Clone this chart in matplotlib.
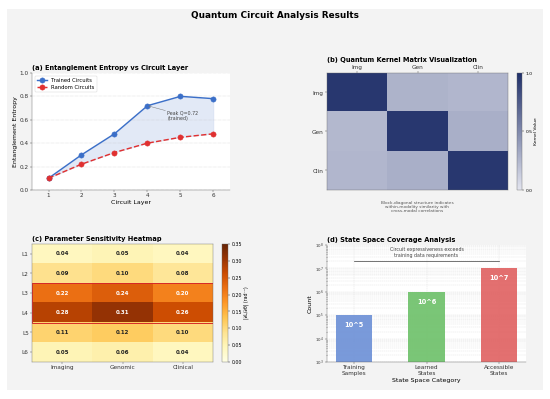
import numpy as np
import matplotlib
matplotlib.use("Agg")
import matplotlib.pyplot as plt
from matplotlib.colors import LinearSegmentedColormap
from matplotlib.patches import Rectangle

# data
layers = [1, 2, 3, 4, 5, 6]
trained = [0.10, 0.30, 0.48, 0.72, 0.80, 0.78]
random_c = [0.10, 0.22, 0.32, 0.40, 0.45, 0.48]

modalities = ["Img", "Gen", "Clin"]
kernel = np.array([[0.95, 0.27, 0.25],
                   [0.24, 0.95, 0.29],
                   [0.25, 0.29, 0.95]])

sens_rows = ["L1", "L2", "L3", "L4", "L5", "L6"]
sens_cols = ["Imaging", "Genomic", "Clinical"]
sens = np.array([[0.04, 0.05, 0.04],
                 [0.09, 0.10, 0.08],
                 [0.22, 0.24, 0.20],
                 [0.28, 0.31, 0.26],
                 [0.11, 0.12, 0.10],
                 [0.05, 0.06, 0.04]])

state_cats = ["Training\nSamples", "Learned\nStates", "Accessible\nStates"]
state_counts = [1e5, 1e6, 1e7]
state_labels = ["10^5", "10^6", "10^7"]

W, H = 550, 399
def box(l, r, t, b):
    return [l / W, 1 - b / H, (r - l) / W, (b - t) / H]

fig = plt.figure(figsize=(16, 11.61), dpi=34.375, facecolor="white")
fig.patches.append(Rectangle((7 / W, 1 - 390 / H), 536 / W, 381 / H,
                             transform=fig.transFigure, facecolor="#f3f3f3",
                             edgecolor="none", zorder=-10))
fig.text(0.5, 1 - 15 / H, "Quantum Circuit Analysis Results",
         ha="center", va="center", fontsize=18.5, fontweight="bold")

# (a) entropy
ax1 = fig.add_axes(box(32, 230, 73, 190))
ax1.plot(layers, trained, "o-", color="#3b6fc8", lw=3, ms=11, label="Trained Circuits")
ax1.plot(layers, random_c, "o--", color="#e03030", lw=3, ms=11, label="Random Circuits")
ax1.fill_between(layers, random_c, trained, color="#aec2e8", alpha=0.35)
ax1.set_xlim(0.5, 6.5)
ax1.set_ylim(0, 1)
ax1.set_xticks(layers)
ax1.set_xlabel("Circuit Layer", fontsize=13)
ax1.set_ylabel("Entanglement Entropy", fontsize=13)
ax1.set_title("(a) Entanglement Entropy vs Circuit Layer", fontsize=14,
              fontweight="bold", loc="left")
ax1.tick_params(labelsize=12, colors="#333333")
ax1.grid(axis="y", ls=":", color="#bbbbbb", lw=1)
for s in ["top", "right"]:
    ax1.spines[s].set_visible(False)
for s in ["left", "bottom"]:
    ax1.spines[s].set_color("#555555")
ax1.legend(loc="upper left", fontsize=11)
ax1.annotate("Peak Q=0.72\n(trained)", xy=(4, 0.72), xytext=(4.6, 0.60),
             fontsize=10, color="#444444",
             arrowprops=dict(arrowstyle="->", color="#777777", lw=1))

# (b) kernel
kcmap = LinearSegmentedColormap.from_list("kern", ["#e2e4ef", "#1f2f69"])
ax2 = fig.add_axes(box(327, 508, 73, 190))
im2 = ax2.imshow(kernel, cmap=kcmap, vmin=0, vmax=1, aspect="auto")
ax2.set_xticks(range(3))
ax2.set_xticklabels(modalities)
ax2.set_yticks(range(3))
ax2.set_yticklabels(modalities)
ax2.xaxis.tick_top()
ax2.tick_params(labelsize=12, colors="#333333")
for s in ax2.spines.values():
    s.set_color("#666666")
ax2.set_title("(b) Quantum Kernel Matrix Visualization", fontsize=14,
              fontweight="bold", loc="left")
cax2 = fig.add_axes(box(517, 522, 73, 190))
cb2 = fig.colorbar(im2, cax=cax2, ticks=[0, 0.5, 1.0])
cb2.ax.tick_params(labelsize=9.5)
cb2.set_label("Kernel Value", fontsize=9.5)
cb2.outline.set_edgecolor("#666666")
fig.text(417 / W, 1 - 207 / H,
         "Block-diagonal structure indicates\nwithin-modality similarity with\ncross-modal correlations",
         ha="center", va="center", fontsize=9, color="#555555", linespacing=1.1)

# (c) sensitivity
ax3 = fig.add_axes(box(32, 213, 244, 362))
im3 = ax3.imshow(sens, cmap="YlOrBr", vmin=0, vmax=0.35, aspect="auto")
ax3.set_xticks(range(3))
ax3.set_xticklabels(sens_cols)
ax3.set_yticks(range(6))
ax3.set_yticklabels(sens_rows)
ax3.tick_params(labelsize=12, colors="#333333")
for s in ax3.spines.values():
    s.set_color("#666666")
for i in range(sens.shape[0]):
    for j in range(sens.shape[1]):
        v = sens[i, j]
        ax3.text(j, i, f"{v:.2f}", ha="center", va="center", fontsize=11.5,
                 fontweight="bold", color="white" if v >= 0.18 else "#222222")
ax3.add_patch(Rectangle((-0.5, 1.5), 3, 2, fill=False, edgecolor="#d62728", lw=2))
ax3.set_title("(c) Parameter Sensitivity Heatmap", fontsize=14,
              fontweight="bold", loc="left")
cax3 = fig.add_axes(box(222, 228, 244, 362))
cb3 = fig.colorbar(im3, cax=cax3, ticks=np.arange(0, 0.36, 0.05))
cb3.ax.tick_params(labelsize=10)
cb3.set_label("|∂L/∂θ| (rad⁻¹)", fontsize=10)
cb3.outline.set_edgecolor("#666666")
ax3.annotate("Peak sensitivity\n(mid-layers\nL3-L4)", xy=(2.52, 2.5), xycoords="data",
             xytext=(1.225, 0.5), textcoords="axes fraction", va="center",
             fontsize=9, color="#d62728",
             bbox=dict(boxstyle="round,pad=0.3", fc="white", ec="#d62728", alpha=0.8),
             arrowprops=dict(arrowstyle="->", color="#d62728", lw=1))

# (d) state space
ax4 = fig.add_axes(box(327, 526, 245, 362))
xpos = np.arange(len(state_cats))
bars = ax4.bar(xpos, state_counts, width=0.5,
               color=["#6b8fd6", "#6cc068", "#e06060"], alpha=0.9)
ax4.set_yscale("log")
ax4.set_ylim(1e3, 1e8)
ax4.set_xticks(xpos)
ax4.set_xticklabels(state_cats)
ax4.tick_params(axis="x", labelsize=12, colors="#333333")
ax4.tick_params(axis="y", labelsize=8.5, colors="#333333")
ax4.set_xlabel("State Space Category", fontsize=13)
ax4.set_ylabel("Count", fontsize=13)
ax4.set_title("(d) State Space Coverage Analysis", fontsize=14,
              fontweight="bold", loc="left")
ax4.grid(which="both", axis="y", ls="--", color="#dddddd", lw=0.8)
ax4.grid(which="major", axis="x", ls="--", color="#dddddd", lw=0.8)
ax4.set_axisbelow(True)
for s in ["top", "right"]:
    ax4.spines[s].set_visible(False)
for s in ["left", "bottom"]:
    ax4.spines[s].set_color("#555555")
for b, lab, c in zip(bars, state_labels, state_counts):
    ax4.text(b.get_x() + b.get_width() / 2, c * 0.38, lab, ha="center", va="center",
             fontsize=14, fontweight="bold", color="white")
ax4.plot([0, 2], [2e7, 2e7], color="#444444", lw=1.5)
ax4.text(1, 2.9e7, "Circuit expressiveness exceeds\ntraining data requirements",
         ha="center", va="bottom", fontsize=10, color="#444444", linespacing=1.1)

fig.savefig("out.png", dpi=34.375, facecolor=fig.get_facecolor())
